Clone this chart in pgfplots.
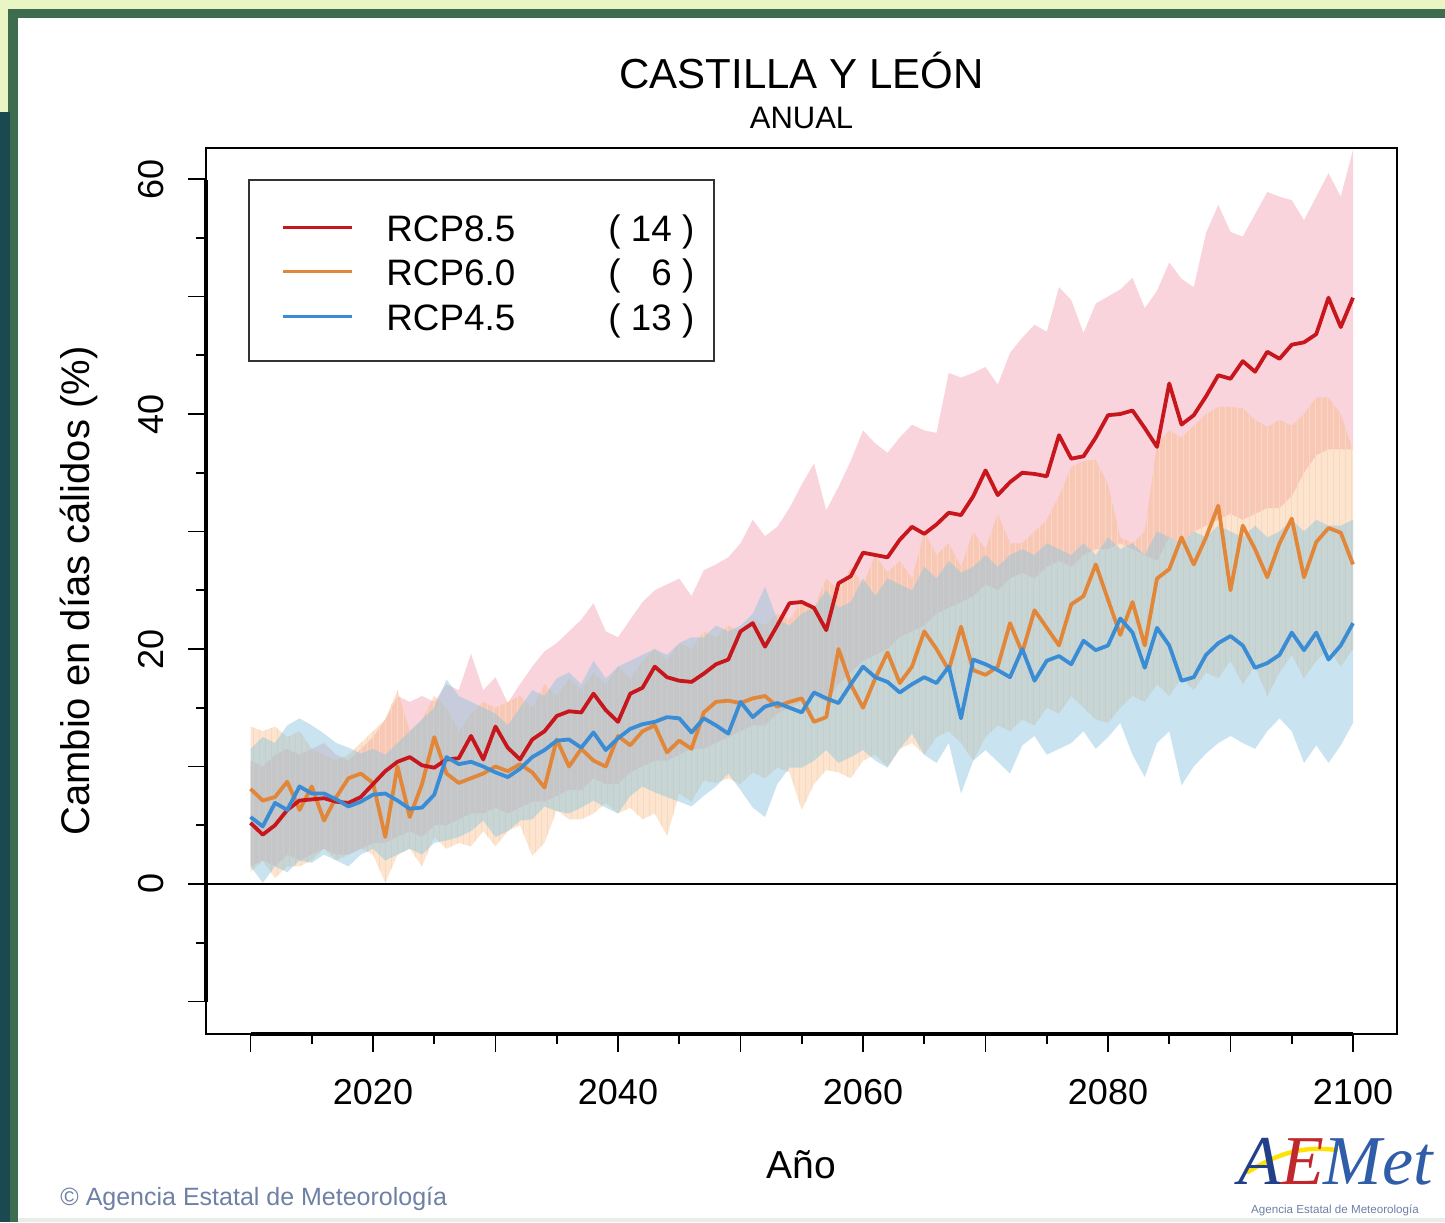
\documentclass[border=0pt]{standalone}
\usepackage{fontspec}
\setmainfont{Liberation Sans}
\newfontfamily\logofont{Liberation Serif}
\usepackage{pgfplots}
\pgfplotsset{compat=1.18}
\usepackage{pgfplotstable}
\usetikzlibrary{patterns}

\definecolor{rline}{HTML}{C8161D}
\definecolor{oline}{HTML}{E2873A}
\definecolor{bline}{HTML}{3A8DD4}
\definecolor{rband}{HTML}{F29AAC}
\definecolor{oband}{HTML}{FAAE68}
\definecolor{bband}{HTML}{88C4DE}
\definecolor{bgyellow}{HTML}{EAF5C4}
\definecolor{bggreen}{HTML}{3E6C4E}
\definecolor{bgteal}{HTML}{1A4A50}
\definecolor{copyc}{HTML}{6F80A6}

\pgfplotstableread{
year m lo hi
2010 5.2 1.5 10.5
2011 4.2 2.0 10.0
2012 5.0 1.5 11.0
2013 6.3 2.5 11.5
2014 7.1 2.0 11.0
2015 7.2 2.5 11.5
2016 7.3 3.0 12.0
2017 7.0 2.5 11.0
2018 6.9 2.5 10.5
2019 7.4 3.0 11.5
2020 8.5 3.5 12.5
2021 9.6 3.5 14.0
2022 10.4 4.0 16.0
2023 10.8 4.5 15.5
2024 10.1 4.0 16.0
2025 9.9 5.0 15.5
2026 10.6 5.0 17.0
2027 10.7 5.5 16.5
2028 12.6 6.0 19.6
2029 10.6 6.0 16.5
2030 13.4 6.5 17.6
2031 11.6 6.0 15.4
2032 10.6 6.5 17.0
2033 12.3 7.0 18.5
2034 13.0 7.0 19.8
2035 14.3 7.5 20.5
2036 14.7 8.0 21.5
2037 14.6 8.0 22.5
2038 16.2 9.0 23.9
2039 14.8 8.5 21.5
2040 13.8 8.5 21.0
2041 16.2 9.5 22.5
2042 16.7 10.0 24.0
2043 18.5 10.5 25.0
2044 17.6 10.5 25.5
2045 17.3 11.0 26.0
2046 17.2 11.5 24.5
2047 17.9 11.5 26.7
2048 18.7 12.0 27.2
2049 19.1 12.5 27.8
2050 21.5 13.0 29.0
2051 22.2 13.5 31.0
2052 20.2 13.5 29.6
2053 22.0 14.5 30.4
2054 23.9 15.0 32.0
2055 24.0 15.5 34.0
2056 23.5 16.0 35.8
2057 21.6 15.5 31.8
2058 25.6 17.0 33.8
2059 26.2 18.0 36.0
2060 28.2 19.0 38.6
2061 28.0 19.5 37.5
2062 27.8 20.0 36.7
2063 29.3 21.0 38.0
2064 30.4 21.5 39.1
2065 29.8 22.0 38.6
2066 30.6 23.0 38.4
2067 31.6 23.5 43.5
2068 31.4 24.0 43.1
2069 33.0 24.5 43.5
2070 35.2 25.5 44.0
2071 33.1 25.0 42.5
2072 34.2 26.0 45.2
2073 35.0 26.5 46.5
2074 34.9 26.0 47.6
2075 34.7 27.0 47.0
2076 38.2 27.5 50.8
2077 36.2 27.0 49.7
2078 36.4 28.0 46.9
2079 38.0 28.5 49.4
2080 39.9 28.5 50.0
2081 40.0 29.0 50.6
2082 40.3 28.5 51.6
2083 38.8 28.0 49.0
2084 37.2 27.5 50.5
2085 42.6 29.5 52.9
2086 39.1 29.0 51.5
2087 39.9 30.0 50.8
2088 41.5 30.5 55.4
2089 43.3 31.0 57.8
2090 43.0 31.5 55.5
2091 44.5 31.0 55.1
2092 43.6 31.5 57.0
2093 45.3 32.0 58.9
2094 44.7 32.0 58.5
2095 45.9 33.0 58.2
2096 46.1 35.0 56.5
2097 46.8 36.5 58.5
2098 49.9 37.0 60.5
2099 47.4 37.0 58.5
2100 49.9 37.0 62.5
}\rcpA

\pgfplotstableread{
year m lo hi
2010 8.1 1.0 13.4
2011 7.1 2.0 13.0
2012 7.4 0.5 13.4
2013 8.7 1.5 12.5
2014 6.3 1.5 13.0
2015 8.3 2.0 11.5
2016 5.4 3.0 11.0
2017 7.4 2.0 10.5
2018 9.0 2.5 11.0
2019 9.4 3.0 12.0
2020 8.6 2.5 13.0
2021 4.0 0.1 14.0
2022 10.0 2.5 16.5
2023 5.7 3.0 13.0
2024 8.5 1.5 14.0
2025 12.5 4.0 16.0
2026 9.4 3.0 15.0
2027 8.6 3.5 13.0
2028 9.0 3.2 14.5
2029 9.4 4.5 15.5
2030 10.0 3.2 15.0
2031 9.6 4.5 15.5
2032 10.2 5.0 16.0
2033 9.5 2.4 15.0
2034 8.2 3.5 17.0
2035 12.3 6.3 16.0
2036 10.0 5.5 17.5
2037 11.5 5.5 16.5
2038 10.5 6.0 18.0
2039 10.0 6.9 17.0
2040 12.6 6.0 18.5
2041 11.8 6.5 17.5
2042 13.0 5.5 19.0
2043 13.5 6.0 20.0
2044 11.2 4.1 19.0
2045 12.2 7.7 20.5
2046 11.5 7.0 20.0
2047 14.6 8.8 21.5
2048 15.5 8.6 21.0
2049 15.6 9.0 22.0
2050 15.4 8.5 21.5
2051 15.8 9.5 22.5
2052 16.0 9.0 22.0
2053 15.1 9.9 23.0
2054 15.5 9.5 22.5
2055 15.8 6.3 24.0
2056 13.8 8.5 23.5
2057 14.2 9.7 26.0
2058 20.0 9.5 25.0
2059 17.0 9.0 27.0
2060 15.0 10.5 25.5
2061 17.5 11.0 28.0
2062 19.7 10.0 26.5
2063 17.1 11.5 27.5
2064 18.5 12.0 26.0
2065 21.5 11.0 30.0
2066 20.0 12.5 28.0
2067 18.2 13.0 29.0
2068 21.9 12.0 27.0
2069 18.2 10.5 30.0
2070 17.8 12.5 28.5
2071 18.5 13.5 31.5
2072 22.2 13.0 29.0
2073 19.7 14.0 29.0
2074 23.3 13.5 30.0
2075 21.8 15.0 31.0
2076 20.3 14.5 33.0
2077 23.8 16.0 35.5
2078 24.5 15.0 36.0
2079 27.2 14.0 36.1
2080 24.2 13.7 34.0
2081 21.2 15.0 29.5
2082 24.0 16.0 29.0
2083 20.3 15.5 30.0
2084 26.0 17.0 37.5
2085 26.8 16.0 38.6
2086 29.5 17.5 38.0
2087 27.2 16.5 39.0
2088 29.5 18.0 40.0
2089 32.2 17.5 40.6
2090 25.0 19.0 40.6
2091 30.5 17.0 40.5
2092 28.5 18.5 39.5
2093 26.1 16.0 38.9
2094 29.0 18.0 39.5
2095 31.1 19.5 39.0
2096 26.1 17.5 40.0
2097 29.1 19.0 41.4
2098 30.3 20.0 41.4
2099 29.9 18.5 40.0
2100 27.2 20.0 36.9
}\rcpB

\pgfplotstableread{
year m lo hi
2010 5.7 1.5 11.5
2011 4.9 0.1 12.5
2012 6.9 1.5 12.0
2013 6.3 1.0 13.5
2014 8.3 2.0 14.1
2015 7.7 1.8 13.5
2016 7.7 2.5 12.8
2017 7.2 2.0 12.0
2018 6.6 1.5 11.6
2019 7.0 2.5 11.1
2020 7.6 3.0 11.5
2021 7.7 2.0 11.0
2022 7.1 2.5 12.0
2023 6.4 3.0 13.0
2024 6.5 2.5 14.0
2025 7.6 3.5 15.0
2026 10.8 3.7 17.4
2027 10.2 4.0 16.0
2028 10.4 4.5 15.5
2029 10.0 5.4 15.0
2030 9.5 4.0 14.5
2031 9.1 4.5 13.5
2032 9.8 5.4 15.0
2033 10.8 5.5 16.5
2034 11.4 6.6 16.0
2035 12.2 6.2 17.5
2036 12.3 6.0 18.0
2037 11.6 6.5 17.0
2038 12.9 7.1 19.0
2039 11.4 6.5 17.5
2040 12.4 6.0 18.5
2041 13.2 7.5 19.0
2042 13.6 8.3 19.5
2043 13.8 7.8 20.0
2044 14.2 7.4 19.5
2045 14.1 7.0 20.5
2046 12.9 6.6 21.0
2047 14.1 7.5 21.0
2048 13.5 8.3 22.0
2049 12.8 9.4 21.5
2050 15.5 8.0 22.0
2051 14.2 6.5 23.0
2052 15.1 5.7 25.3
2053 15.4 8.5 22.5
2054 15.0 9.9 22.0
2055 14.6 9.9 23.0
2056 16.3 10.5 23.5
2057 15.8 11.4 25.0
2058 15.4 10.3 23.5
2059 17.0 10.8 24.0
2060 18.5 11.4 26.0
2061 17.6 10.5 24.5
2062 17.2 9.9 26.0
2063 16.3 11.5 25.5
2064 17.0 12.8 25.0
2065 17.6 11.0 27.0
2066 17.1 10.3 26.0
2067 18.5 12.0 27.5
2068 14.1 7.7 26.5
2069 19.1 10.5 27.0
2070 18.7 11.4 28.0
2071 18.2 10.4 27.0
2072 17.6 9.4 28.0
2073 20.0 11.8 28.5
2074 17.3 12.6 28.0
2075 19.0 11.0 29.0
2076 19.4 11.5 28.5
2077 18.7 12.0 28.0
2078 20.7 13.0 29.0
2079 19.9 11.5 28.0
2080 20.3 12.5 29.5
2081 22.6 13.7 28.5
2082 21.4 11.0 29.0
2083 18.4 9.1 28.0
2084 21.8 12.0 30.0
2085 20.3 13.0 29.5
2086 17.3 8.4 29.0
2087 17.6 10.0 30.0
2088 19.5 11.1 29.5
2089 20.5 12.0 30.5
2090 21.1 12.6 30.0
2091 20.3 12.0 29.5
2092 18.4 11.5 30.5
2093 18.8 13.0 29.5
2094 19.5 14.1 30.0
2095 21.4 13.0 31.0
2096 19.9 10.3 30.0
2097 21.4 11.8 31.0
2098 19.1 10.3 30.5
2099 20.3 11.8 30.5
2100 22.2 13.7 31.0
}\rcpC

\pgfplotsset{
  baseax/.style={
    at={(103pt,-517pt)}, anchor=south west,
    width=595.5pt, height=443pt, scale only axis,
    xmin=2006.367, xmax=2103.59, ymin=-12.77, ymax=62.64,
  },
  bandax/.style={baseax, hide axis, stack plots=y},
}

\begin{document}
\begin{tikzpicture}
\begin{scope}[x=1pt,y=1pt]
\fill[white] (0,-611) rectangle (722.5,0);
\fill[bgyellow] (0,-4.5) rectangle (722.5,0);
\fill[bggreen] (4,-9) rectangle (722.5,-4.5);
\fill[bgyellow] (0,-56) rectangle (4,0);
\fill[bggreen] (4,-611) rectangle (9,-4.5);
\fill[bgteal] (0,-611) rectangle (5,-56);
\fill[bggreen!12!white] (9,-611) rectangle (722.5,-609);
\end{scope}

% pink band
\begin{axis}[bandax]
\addplot[draw=none] table[x=year,y=lo]{\rcpA};
\addplot[fill=rband, fill opacity=0.42, draw=none] table[x=year,y expr=\thisrow{hi}-\thisrow{lo}]{\rcpA} \closedcycle;
\end{axis}
% orange band
\begin{axis}[bandax]
\addplot[draw=none] table[x=year,y=lo]{\rcpB};
\addplot[fill=oband, fill opacity=0.32, draw=none, postaction={pattern=vertical lines, pattern color=oline!32!white}] table[x=year,y expr=\thisrow{hi}-\thisrow{lo}]{\rcpB} \closedcycle;
\end{axis}
% blue band
\begin{axis}[bandax]
\addplot[draw=none] table[x=year,y=lo]{\rcpC};
\addplot[fill=bband, fill opacity=0.45, draw=none] table[x=year,y expr=\thisrow{hi}-\thisrow{lo}]{\rcpC} \closedcycle;
\end{axis}

% main axis
\begin{axis}[
  baseax,
  axis line style={black, line width=0.9pt},
  tick style={black, line width=0.9pt},
  tick align=outside,
  xtick pos=left, ytick pos=left,
  xtick={2010,2020,...,2100},
  xticklabels={,2020,,2040,,2060,,2080,,2100},
  minor xtick={2015,2025,...,2095},
  ytick={-10,0,...,60},
  yticklabels={,0,,20,,40,,60},
  minor ytick={-5,5,...,55},
  major tick length=9pt, minor tick length=5pt,
  ticklabel style={font=\fontsize{18}{20}\selectfont},
  xticklabel style={yshift=-10pt},
  yticklabel style={xshift=-8.5pt, rotate=90, anchor=south},
  xlabel={Año},
  ylabel={Cambio en días cálidos (\%)},
  xlabel style={font=\fontsize{19.5}{22}\selectfont, at={(axis description cs:0.5,-0.1625)}, anchor=base},
  ylabel style={font=\fontsize{20}{22}\selectfont, at={(axis description cs:-0.0982,0.5)}, anchor=base},
]
\addplot[black, line width=0.9pt] coordinates {(2006.367,0) (2103.59,0)};
\addplot[oline, line width=1.9pt, line join=round] table[x=year,y=m]{\rcpB};
\addplot[rline, line width=1.9pt, line join=round] table[x=year,y=m]{\rcpA};
\addplot[bline, line width=1.9pt, line join=round] table[x=year,y=m]{\rcpC};
\end{axis}

\begin{scope}[x=1pt,y=1pt]
% heavier axis segments
\draw[black, line width=1.8pt] (125.25,-517) -- (676.5,-517);
\draw[black, line width=1.8pt] (103,-500.75) -- (103,-90);

% titles
\node[anchor=base, inner sep=0] at (400.75,-44) {\fontsize{21}{24}\selectfont CASTILLA Y LEÓN};
\node[anchor=base, inner sep=0] at (400.75,-64) {\fontsize{15.5}{18}\selectfont ANUAL};

% legend
\draw[black!80, line width=0.9pt, fill=white] (124.5,-180.5) rectangle (357,-90);
\draw[rline, line width=1.5pt] (141.5,-113.5) -- (176,-113.5);
\draw[oline, line width=1.5pt] (141.5,-135.5) -- (176,-135.5);
\draw[bline, line width=1.5pt] (141.5,-158) -- (176,-158);
\node[anchor=base west, inner sep=0] at (193,-120.5) {\fontsize{18.4}{21}\selectfont RCP8.5};
\node[anchor=base west, inner sep=0] at (193,-142.5) {\fontsize{18.4}{21}\selectfont RCP6.0};
\node[anchor=base west, inner sep=0] at (193,-165) {\fontsize{18.4}{21}\selectfont RCP4.5};
\node[anchor=base west, inner sep=0] at (304,-120.5) {\fontsize{18.4}{21}\selectfont (\ \makebox[1.112em][r]{14}\ )};
\node[anchor=base west, inner sep=0] at (304,-142.5) {\fontsize{18.4}{21}\selectfont (\ \makebox[1.112em][r]{6}\ )};
\node[anchor=base west, inner sep=0] at (304,-165) {\fontsize{18.4}{21}\selectfont (\ \makebox[1.112em][r]{13}\ )};

% copyright
\node[anchor=base west, inner sep=0, text=copyc] at (30,-602.5) {\fontsize{12.5}{14}\selectfont © Agencia Estatal de Meteorología};

% logo
\draw[yellow!85!orange, line width=2.2pt, line cap=round] (624,-586) .. controls (640,-576) and (652,-573) .. (668,-575);
\node[anchor=base west, inner sep=0] at (619,-592) {\fontsize{35}{37}\selectfont\logofont\itshape\textcolor[HTML]{22408A}{A}\textcolor[HTML]{C0282D}{E}\textcolor[HTML]{2F5DA8}{Met}};
\node[anchor=base, inner sep=0, text=copyc] at (667.5,-606.5) {\fontsize{5.8}{7}\selectfont Agencia Estatal de Meteorología};
\end{scope}
\end{tikzpicture}
\end{document}
